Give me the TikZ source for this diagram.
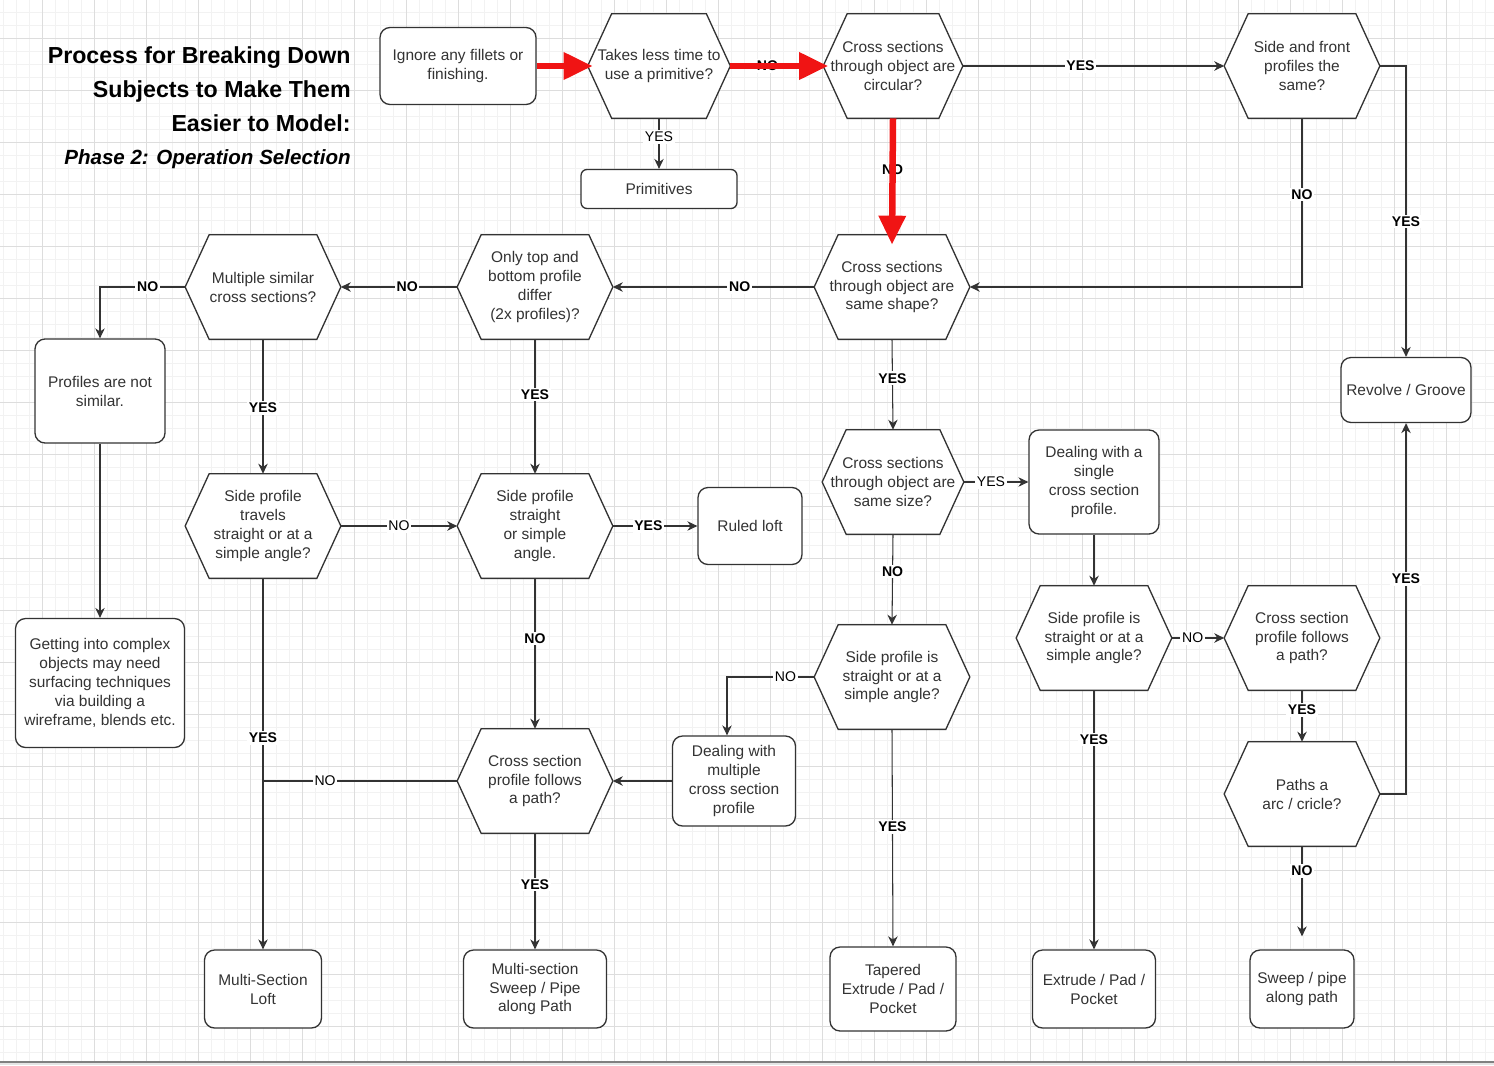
\documentclass[tikz,border=0pt]{standalone}
\usepackage{fontspec}
\setmainfont{Liberation Sans}
\usetikzlibrary{arrows.meta}

\definecolor{linegrey}{HTML}{333333}
\definecolor{textgrey}{HTML}{333333}
\definecolor{minorgrid}{HTML}{F2F2F2}
\definecolor{majorgrid}{HTML}{DDDDDD}
\definecolor{hilite}{HTML}{F01414}

\pgfdeclarelayer{grid}
\pgfdeclarelayer{background}
\pgfsetlayers{grid,background,main}

\tikzstyle{process} = [rectangle, rounded corners=0.2cm, draw=linegrey, line width=0.75pt, fill=white, text=textgrey, align=center, inner sep=0pt, font=\fontsize{8.8}{10.8}\selectfont]
\tikzstyle{decision} = [rectangle, minimum width=3.1cm, minimum height=2.08cm, text=textgrey, align=center, inner sep=0pt, font=\fontsize{8.8}{10.8}\selectfont]
\tikzstyle{hexline} = [draw=linegrey, line width=0.75pt, fill=white]
\tikzstyle{plainline} = [draw=linegrey, line width=0.6pt]
\tikzstyle{arrow} = [plainline, -{Stealth[length=0.2cm,width=0.19cm]}]
\tikzstyle{lab} = [fill=white, inner sep=1pt, text=black, font=\fontsize{8}{9}\selectfont\bfseries]
\tikzstyle{labr} = [fill=white, inner sep=1pt, text=black, font=\fontsize{8}{9}\selectfont]
\tikzstyle{redarrow} = [draw=hilite, line width=0.13cm, -{Triangle[length=0.58cm,width=0.52cm]}]

\begin{document}
\begin{tikzpicture}[x=0.02cm, y=-0.02cm]

\useasboundingbox (0,0) rectangle (1494,1065);

\begin{pgfonlayer}{grid}
\foreach \gx in {3,16,...,1494} \draw[minorgrid, line width=0.4pt] (\gx,0) -- (\gx,1062);
\foreach \gy in {12,25,...,1062} \draw[minorgrid, line width=0.4pt] (0,\gy) -- (1494,\gy);
\foreach \gx in {42,94,...,1494} \draw[majorgrid, line width=0.5pt] (\gx,0) -- (\gx,1062);
\foreach \gy in {38,90,...,1062} \draw[majorgrid, line width=0.5pt] (0,\gy) -- (1494,\gy);
\fill[gray!20] (0,1062) rectangle (1494,1065);
\draw[gray, line width=0.6pt] (0,1062) -- (1494,1062);
\end{pgfonlayer}

\node (title) [anchor=east, inner sep=0pt, align=right, font=\fontsize{13.2}{19.4}\selectfont\bfseries] at (351,89) {Process for Breaking Down\\Subjects to Make Them\\Easier to Model:};
\node (phase) [anchor=east, inner sep=0pt, font=\fontsize{11.7}{14}\selectfont\bfseries\itshape] at (351,159) {Phase 2: Operation Selection};

\node (ignore) [process, minimum width=3.12cm, minimum height=1.54cm] at (458,66) {Ignore any fillets or\\finishing.};
\node (primq) [decision, minimum width=2.84cm] at (659,66) {Takes less time to\\use a primitive?};
\node (prims) [process, rounded corners=0.12cm, minimum width=3.12cm, minimum height=0.78cm] at (659,189) {Primitives};
\node (circq) [decision, minimum width=2.78cm] at (893,66) {Cross sections\\through object are\\circular?};
\node (sidefront) [decision] at (1302,66) {Side and front\\profiles the\\same?};
\node (revolve) [process, minimum width=2.6cm, minimum height=1.3cm] at (1406,390) {Revolve / Groove};
\node (shapeq) [decision] at (892,287) {Cross sections\\through object are\\same shape?};
\node (topbot) [decision] at (535,287) {Only top and\\bottom profile\\differ\\(2x profiles)?};
\node (multsim) [decision] at (263,287) {Multiple similar\\cross sections?};
\node (notsim) [process, minimum width=2.6cm, minimum height=2.08cm] at (100,391) {Profiles are not\\similar.};
\node (complex) [process, minimum width=3.38cm, minimum height=2.58cm] at (100,683) {Getting into complex\\objects may need\\surfacing techniques\\via building a\\wireframe, blends etc.};
\node (travels) [decision] at (263,526) {Side profile\\travels\\straight or at a\\simple angle?};
\node (straight) [decision] at (535,526) {Side profile\\straight\\or simple\\angle.};
\node (ruled) [process, minimum width=2.08cm, minimum height=1.54cm] at (750,526) {Ruled loft};
\node (sizeq) [decision, minimum width=2.82cm] at (893,482) {Cross sections\\through object are\\same size?};
\node (single) [process, minimum width=2.6cm, minimum height=2.08cm] at (1094,482) {Dealing with a\\single\\cross section\\profile.};
\node (side2) [decision] at (892,677) {Side profile is\\straight or at a\\simple angle?};
\node (multiple) [process, minimum width=2.46cm, minimum height=1.8cm] at (734,781) {Dealing with\\multiple\\cross section\\profile};
\node (path1) [decision] at (535,781) {Cross section\\profile follows\\a path?};
\node (side3) [decision] at (1094,638) {Side profile is\\straight or at a\\simple angle?};
\node (path2) [decision] at (1302,638) {Cross section\\profile follows\\a path?};
\node (arcq) [decision] at (1302,794) {Paths a\\arc / cricle?};
\node (msloft) [process, minimum width=2.34cm, minimum height=1.56cm] at (263,989) {Multi-Section\\Loft};
\node (mssweep) [process, minimum width=2.86cm, minimum height=1.56cm] at (535,989) {Multi-section\\Sweep / Pipe\\along Path};
\node (tapered) [process, minimum width=2.52cm, minimum height=1.68cm] at (893,989) {Tapered\\Extrude / Pad /\\Pocket};
\node (extrude) [process, minimum width=2.46cm, minimum height=1.56cm] at (1094,989) {Extrude / Pad /\\Pocket};
\node (sweep) [process, minimum width=2.08cm, minimum height=1.56cm] at (1302,989) {Sweep / pipe\\along path};

\begin{pgfonlayer}{background}
\foreach \h in {primq,circq,sidefront,shapeq,topbot,multsim,travels,straight,sizeq,side2,path1,side3,path2,arcq}
  \draw[hexline] (\h.west) -- ([xshift=0.48cm]\h.north west) -- ([xshift=-0.48cm]\h.north east) -- (\h.east) -- ([xshift=-0.48cm]\h.south east) -- ([xshift=0.48cm]\h.south west) -- cycle;
\end{pgfonlayer}

\coordinate (join) at (travels.south |- path1.west);

\draw [arrow] (primq.south) -- node[labr, pos=0.37] {YES} (prims.north);
\draw [arrow] (primq.east) -- node[lab, pos=0.4] {NO} (circq.west);
\draw [arrow] (circq.east) -- node[lab, pos=0.45] {YES} (sidefront.west);
\draw [arrow] (circq.south) -- node[lab, pos=0.44] {NO} (shapeq.north);
\draw [arrow] (sidefront.south) |- node[lab, pos=0.225] {NO} (shapeq.east);
\draw [arrow] (sidefront.east) -| node[lab, pos=0.767] {YES} (revolve.north);
\draw [arrow] (shapeq.west) -- node[lab, pos=0.37] {NO} (topbot.east);
\draw [arrow] (topbot.west) -- node[lab, pos=0.43] {NO} (multsim.east);
\draw [arrow] (multsim.west) -| node[lab, pos=0.22] {NO} (notsim.north);
\draw [arrow] (notsim.south) -- (complex.north);
\draw [arrow] (multsim.south) -- node[lab, pos=0.51] {YES} (travels.north);
\draw [arrow] (topbot.south) -- node[lab, pos=0.41] {YES} (straight.north);
\draw [arrow] (travels.east) -- node[labr, pos=0.5] {NO} (straight.west);
\draw [arrow] (straight.east) -- node[lab, pos=0.42] {YES} (ruled.west);
\draw [arrow] (travels.south) -- node[lab, pos=0.43] {YES} (msloft.north);
\draw [plainline] (path1.west) -- node[labr, pos=0.68] {NO} (join);
\draw [arrow] (straight.south) -- node[lab, pos=0.4] {NO} (path1.north);
\draw [arrow] (path1.south) -- node[lab, pos=0.44] {YES} (mssweep.north);
\draw [arrow] (multiple.west) -- (path1.east);
\draw [arrow] (side2.west) -| node[labr, pos=0.165] {NO} ([xshift=-0.14cm]multiple.north);
\draw [arrow] (side2.south) -- node[lab, pos=0.45] {YES} (tapered.north);
\draw [arrow] (shapeq.south) -- node[lab, pos=0.43] {YES} (sizeq.north);
\draw [arrow] (sizeq.south) -- node[lab, pos=0.41] {NO} (side2.north);
\draw [arrow] (sizeq.east) -- node[labr, pos=0.42] {YES} (single.west);
\draw [arrow] (single.south) -- (side3.north);
\draw [arrow] (side3.south) -- node[lab, pos=0.19] {YES} (extrude.north);
\draw [arrow] (side3.east) -- node[labr, pos=0.4] {NO} (path2.west);
\draw [arrow] (path2.south) -- node[lab, pos=0.38] {YES} (arcq.north);
\draw [arrow] (arcq.east) -| node[lab, pos=0.79] {YES} (revolve.south);
\draw [arrow, shorten >=0.26cm] (arcq.south) -- node[lab, pos=0.24] {NO} (sweep.north);

\draw [redarrow] (ignore.east) -- ([xshift=0.1cm]primq.west);
\draw [redarrow] (primq.east) -- ([xshift=0.1cm]circq.west);
\draw [redarrow] (circq.south) -- ([yshift=-0.2cm]shapeq.north);

\end{tikzpicture}
\end{document}
